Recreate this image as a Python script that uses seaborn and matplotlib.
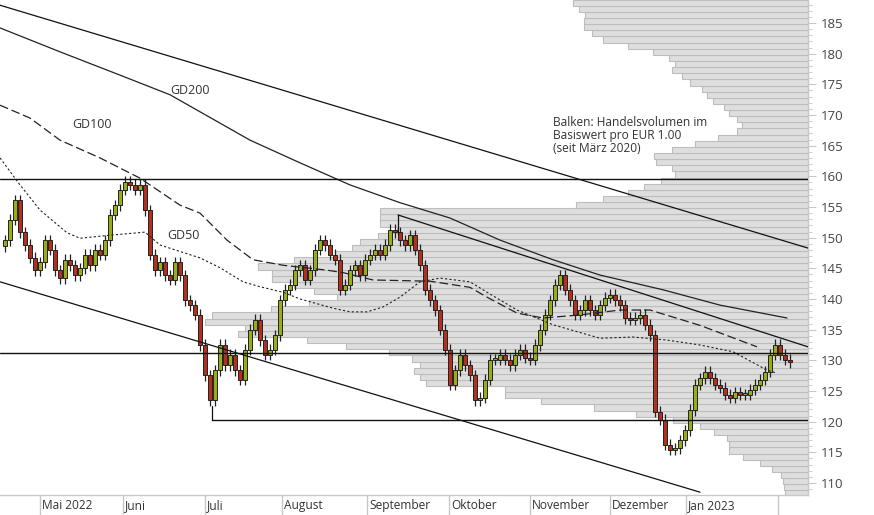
import numpy as np
import pandas as pd
import matplotlib
matplotlib.use("Agg")
import matplotlib.pyplot as plt
from matplotlib.ticker import MultipleLocator
import seaborn as sns

# ---------------- data ----------------
closes = [149.6, 152.9, 156.1, 150.9, 148.8, 146.7, 144.7, 146.0, 149.6, 148.0,
          144.7, 143.4, 146.4, 145.5, 143.9, 145.0, 147.2, 145.5, 148.0, 147.2,
          149.6, 153.7, 155.3, 157.8, 159.1, 158.6, 157.8, 158.6, 154.5, 147.2,
          144.7, 146.0, 143.9, 143.1, 146.0, 143.9, 139.8, 139.0, 137.4, 132.5,
          127.6, 123.5, 128.4, 132.5, 129.2, 130.9, 128.4, 126.8, 131.7, 135.0,
          136.6, 133.3, 130.9, 131.7, 134.1, 139.8, 141.5, 142.3, 144.7, 145.5,
          143.1, 144.7, 148.0, 149.6, 148.8, 147.2, 146.4, 141.5, 142.3, 144.7,
          145.5, 143.9, 146.4, 147.2, 148.0, 147.2, 148.8, 151.3, 150.9, 149.6,
          148.8, 150.4, 148.0, 145.5, 141.5, 139.8, 138.2, 135.0, 131.7, 126.0,
          128.4, 130.9, 129.2, 127.6, 123.5, 123.9, 126.8, 130.1, 130.1, 130.9,
          130.1, 129.2, 130.9, 131.7, 130.4, 130.1, 132.5, 135.0, 137.4, 139.8,
          142.3, 143.9, 141.5, 139.8, 137.4, 138.2, 139.8, 138.2, 137.4, 139.0,
          140.2, 140.7, 139.8, 139.0, 136.9, 136.6, 136.9, 137.4, 135.8, 134.1,
          121.6, 120.3, 116.2, 115.4, 115.7, 117.0, 118.6, 121.9, 126.0, 127.1,
          128.1, 127.1, 126.0, 125.5, 124.4, 123.9, 124.8, 124.4, 124.4, 125.2,
          126.0, 126.8, 128.1, 130.9, 132.5, 130.9, 130.1, 129.7]

# moving averages: (candle index, price)
gd200_x = [0, 12, 24, 34, 50, 60, 70, 80, 90, 100, 110.6, 120, 132.6, 144, 157.4]
gd200_y = [184.2, 180.3, 176.5, 173.3, 165.9, 162.2, 158.6, 155.7, 153.2, 149.6,
           146.4, 143.9, 141.5, 139.0, 136.9]
gd100_x = [0, 6, 12, 20, 28, 36, 40, 45.4, 50.6, 56.6, 65.4, 68.6, 74.6, 86, 94,
           97.4, 103.4, 108.6, 116, 124, 130, 140, 151.4]
gd100_y = [171.6, 169.5, 165.9, 163.0, 159.7, 155.3, 154.0, 149.6, 146.4, 145.5,
           144.7, 144.3, 143.1, 142.9, 141.9, 140.3, 137.7, 136.9, 137.4, 138.2,
           138.2, 135.7, 132.2]
gd50_x = [0, 4, 8, 13.4, 16, 22, 29, 32, 40, 44, 48.6, 52, 56.6, 60, 66.6, 70,
          73.4, 76.6, 80, 84, 88, 94, 97.4, 103.4, 110.6, 120, 126.6, 133.4, 140,
          146.6, 153.4, 155.4]
gd50_y = [163.0, 158.6, 154.5, 150.8, 149.9, 150.4, 150.9, 148.8, 146.7, 145.1,
          142.8, 142.0, 141.1, 140.0, 138.5, 137.9, 137.9, 138.7, 140.3, 142.8,
          143.4, 142.8, 141.1, 138.2, 135.8, 133.6, 133.8, 133.3, 132.5, 131.4,
          128.4, 127.9]

# volume profile (price level, relative volume)
vol_levels = list(range(108, 189))
vol_values = [23, 24, 25, 27, 36, 48, 65, 79, 79, 81, 94, 108, 135, 172, 214, 267,
              303, 303, 382, 388, 394, 388, 396, 419, 462, 501, 570, 563, 603, 596,
              537, 499, 471, 494, 514, 536, 536, 550, 514, 473, 456, 448, 430, 411,
              428, 428, 428, 232, 205, 180, 164, 147, 133, 136, 152, 154, 136, 113,
              90, 71, 66, 71, 79, 84, 95, 101, 106, 118, 126, 136, 133, 139, 155,
              180, 205, 216, 224, 224, 223, 229, 235]

month_labels = ["Mai 2022", "Juni", "Juli", "August", "September", "Oktober",
                "November", "Dezember", "Jan 2023", ""]
month_pos = [8, 24.6, 41, 56.4, 73.4, 89.8, 106, 122, 137.2, 155.6]

# trend / support lines (index, price)
top_trend = ([0, 161.6], [187.9, 148.3])
low_trend = ([0, 140], [142.8, 108.5])
short_trend = ([79.6, 161.6], [153.7, 132.2])
h_lines = [(0, 161.6, 159.5), (0, 161.6, 131.2), (42.4, 161.6, 120.2)]

# ---------------- plot ----------------
sns.set_style("white")
plt.rcParams['font.family'] = ['Open Sans', 'DejaVu Sans']

fig = plt.figure(figsize=(8.74, 5.15), dpi=100)
ax = fig.add_axes([0, 20 / 515, 808 / 874, 495 / 515])
XMAX = 161.6
YMIN, YMAX = 108.04, 188.75

# volume profile behind
ax2 = ax.twiny()
ax2.set_zorder(1)
ax.set_zorder(2)
ax.patch.set_visible(False)
ax2.barh([l - 0.2 for l in vol_levels], vol_values, height=1.0, align='edge',
         color='#dedede', edgecolor='#bdbdbd', linewidth=0.8)
ax2.set_xlim(808, 0)
ax2.set_ylim(YMIN, YMAX)
ax2.axis('off')

# candles
df = pd.DataFrame({"c": closes})
df["i"] = np.arange(1, len(df) + 1)
df["o"] = df["c"].shift(1).fillna(df["c"].iloc[0] - 1.0)
df["top"] = df[["o", "c"]].max(axis=1)
df["bot"] = df[["o", "c"]].min(axis=1)
ax.vlines(df["i"], df["bot"] - 0.9, df["top"] + 0.9, color='#222222', lw=0.9, zorder=3)
colors = np.where(df["c"] >= df["o"], '#9aad16', '#b3301f')
heights = (df["top"] - df["bot"]).clip(lower=0.2)
ax.bar(df["i"], heights, bottom=df["bot"], width=0.62, color=colors,
       edgecolor='#222222', linewidth=0.7, zorder=4)

# moving averages
sns.lineplot(x=gd200_x, y=gd200_y, ax=ax, color='#222222', lw=0.9, zorder=5)
sns.lineplot(x=gd100_x, y=gd100_y, ax=ax, color='#222222', lw=0.9, zorder=5)
ax.lines[-1].set_dashes((7, 3))
sns.lineplot(x=gd50_x, y=gd50_y, ax=ax, color='#222222', lw=0.8, zorder=5)
ax.lines[-1].set_dashes((2, 2))

for xs, ys in (top_trend, low_trend, short_trend):
    ax.plot(xs, ys, color='#111111', lw=0.9, zorder=5)
for x0, x1, y in h_lines:
    ax.plot([x0, x1], [y, y], color='#111111', lw=1.0, zorder=5)
ax.plot([42.4, 42.4], [120.2, 122.6], color='#111111', lw=0.9, zorder=5)
ax.plot([79.6, 79.6], [153.7, 150.6], color='#111111', lw=0.9, zorder=5)

ax.text(34, 173.5, "GD200", fontsize=9, color='#333333', zorder=6)
ax.text(14.4, 167.8, "GD100", fontsize=9, color='#333333', zorder=6)
ax.text(33.4, 149.8, "GD50", fontsize=9, color='#333333', zorder=6)
ax.text(110.6, 164.0, "Balken: Handelsvolumen im\nBasiswert pro EUR 1.00\n(seit März 2020)",
        fontsize=8.6, color='#333333', linespacing=1.0, zorder=6)

ax.set_xlim(0, XMAX)
ax.set_ylim(YMIN, YMAX)
ax.set_xlabel("")
ax.set_ylabel("")

# axes styling
for s in ['top', 'left']:
    ax.spines[s].set_visible(False)
for s in ['bottom', 'right']:
    ax.spines[s].set_color('#c8c8c8')
    ax.spines[s].set_linewidth(1.0)

ax.yaxis.tick_right()
ax.yaxis.set_major_locator(MultipleLocator(5))
ax.yaxis.set_minor_locator(MultipleLocator(1))
ax.set_yticks(range(110, 190, 5))
ax.tick_params(axis='y', which='major', length=6, color='#c8c8c8', labelsize=9.5,
               labelcolor='#444444', pad=3)
ax.tick_params(axis='y', which='minor', length=3, color='#c8c8c8')

ax.set_xticks(month_pos)
ax.set_xticklabels([])
ax.tick_params(axis='x', which='major', length=20, color='#c8c8c8', width=1)
for p, lab in zip(month_pos, month_labels):
    ax.text(p + 0.4, YMIN - (YMAX - YMIN) * 0.008, lab, fontsize=8.6, color='#333333',
            ha='left', va='top', clip_on=False)

fig.savefig("out.png", dpi=100)
